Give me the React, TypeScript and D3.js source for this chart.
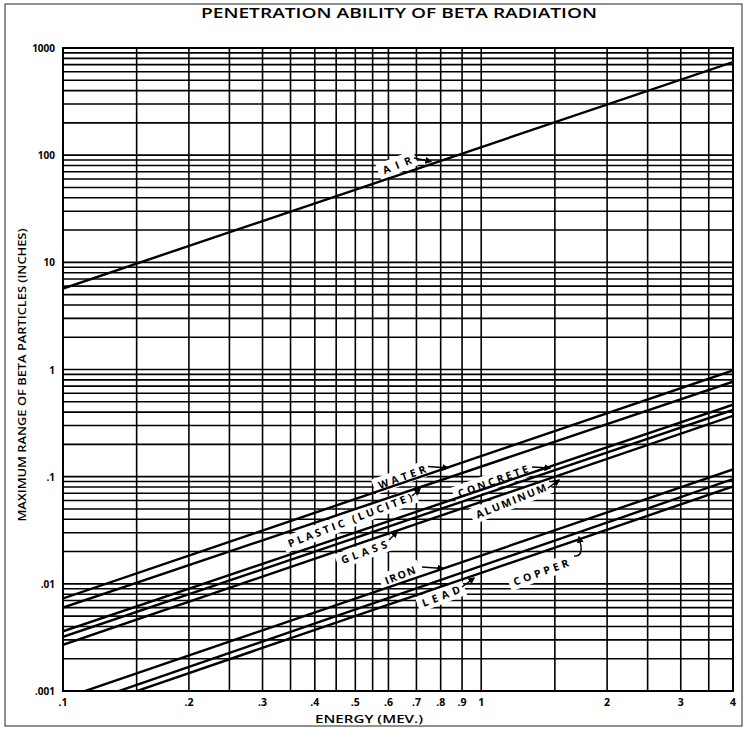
import * as d3 from 'd3'

// energy axis (MeV)
const energyTicks = [0.1, 0.2, 0.3, 0.4, 0.5, 0.6, 0.7, 0.8, 0.9, 1, 2, 3, 4]
const energyLabels = ['.1', '.2', '.3', '.4', '.5', '.6', '.7', '.8', '.9', '1', '2', '3', '4']
const energyGrid = [0.1, 0.15, 0.2, 0.25, 0.3, 0.35, 0.4, 0.45, 0.5, 0.55, 0.6, 0.7, 0.8, 0.9, 1, 1.5, 2, 2.5, 3, 3.5, 4]

// range axis (inches)
const rangeTicks = [0.001, 0.01, 0.1, 1, 10, 100, 1000]
const rangeLabels = ['.001', '.01', '.1', '1', '10', '100', '1000']

// each material is a straight line on log-log paper, read at E = 0.1 and E = 4
const endEnergies = [0.1, 4]
const materials = ['AIR', 'WATER', 'PLASTIC', 'CONCRETE', 'GLASS', 'ALUMINUM', 'IRON', 'COPPER', 'LEAD']
const airRange = [5.7, 740]
const waterRange = [0.0073, 0.98]
const plasticRange = [0.006, 0.77]
const concreteRange = [0.0036, 0.47]
const glassRange = [0.0032, 0.42]
const aluminumRange = [0.0027, 0.37]
const ironRange = [0.00085, 0.117]
const copperRange = [0.00066, 0.095]
const leadRange = [0.00058, 0.081]

const W = 746
const H = 729
const margin = { top: 48, right: 13, bottom: 38, left: 63 }
const font = "'Open Sans', 'DejaVu Sans', sans-serif"

// label layout (pixels)
const notes = [
  { text: 'AIR', cx: 397, cy: 165, rot: -22, len: 30, arrow: 'M414,158 L431,161.5' },
  { text: 'WATER', cx: 402, cy: 477, rot: -20, len: 50, arrow: 'M428,466.5 L448,468' },
  { text: 'PLASTIC (LUCITE)', cx: 350, cy: 520, rot: -21, len: 132, arrow: 'M412,496 L420,489' },
  { text: 'CONCRETE', cx: 493, cy: 481, rot: -20, len: 74, arrow: 'M532,467 L550,468' },
  { text: 'ALUMINUM', cx: 511, cy: 501, rot: -22, len: 75, arrow: 'M548,488 L559,480' },
  { text: 'GLASS', cx: 364, cy: 552, rot: -20, len: 48, arrow: 'M389,540 L397,532' },
  { text: 'IRON', cx: 400, cy: 575, rot: -22, len: 32, arrow: 'M422,567 L443,568.5' },
  { text: 'LEAD', cx: 441, cy: 596, rot: -21, len: 40, arrow: 'M462,587 L474,578' },
  { text: 'COPPER', cx: 541, cy: 572, rot: -20, len: 58, arrow: 'M574,556 Q582,557 581,546 L579,537' },
]

export default function App() {
  const x = d3.scaleLog().domain([0.1, 4]).range([margin.left, W - margin.right])
  const y = d3.scaleLog().domain([0.001, 1000]).range([H - margin.bottom, margin.top])
  const [x0, x1] = x.range()
  const [y0, y1] = y.range()

  const ranges = [airRange, waterRange, plasticRange, concreteRange, glassRange, aluminumRange, ironRange, copperRange, leadRange]
  const series = materials.map((m, i) => ({
    name: m,
    pts: endEnergies.map((e, j) => [e, ranges[i][j]] as [number, number]),
  }))

  const line = d3.line<[number, number]>()
    .x(d => x(d[0]))
    .y(d => y(d[1]))

  const hGrid = y.ticks()

  return (
    <svg width={W} height={H} style={{ position: 'absolute', left: 0, top: 0, background: '#fff' }}>
      <defs>
        <clipPath id="plot">
          <rect x={x0} y={y1} width={x1 - x0} height={y0 - y1} />
        </clipPath>
        <marker id="head" viewBox="0 0 10 10" refX="8" refY="5" markerWidth="5" markerHeight="5" orient="auto">
          <path d="M0,0 L10,5 L0,10 z" fill="#000" />
        </marker>
      </defs>

      <rect x={5} y={4} width={737} height={722} fill="none" stroke="#222" strokeWidth={1} />

      <text x={399} y={18} textAnchor="middle" fontFamily={font} fontWeight={600} fontSize={15}
        textLength={396} lengthAdjust="spacingAndGlyphs">PENETRATION ABILITY OF BETA RADIATION</text>

      <g stroke="#000" strokeWidth={1.6}>
        {hGrid.map((t, i) => (
          <line key={'h' + i} x1={x0} x2={x1} y1={y(t)} y2={y(t)} />
        ))}
        {energyGrid.map((t, i) => (
          <line key={'v' + i} x1={x(t)} x2={x(t)} y1={y0} y2={y1} />
        ))}
      </g>
      <rect x={x0} y={y1} width={x1 - x0} height={y0 - y1} fill="none" stroke="#000" strokeWidth={2} />

      {notes.map((n, i) => (
        <rect key={'bg' + i} x={n.cx - n.len / 2 - 5} y={n.cy - 8} width={n.len + 10} height={16}
          fill="#fff" transform={`rotate(${n.rot},${n.cx},${n.cy})`} />
      ))}

      <g clipPath="url(#plot)">
        {series.map(s => (
          <path key={s.name} d={line(s.pts) || ''} fill="none" stroke="#000" strokeWidth={2.4} />
        ))}
      </g>

      {notes.map((n, i) => (
        <g key={'n' + i}>
          <text x={n.cx} y={n.cy} textAnchor="middle" dominantBaseline="central" fontFamily={font}
            fontWeight="bold" fontSize={10.5} textLength={n.len} lengthAdjust="spacing"
            transform={`rotate(${n.rot},${n.cx},${n.cy})`}>{n.text}</text>
          <path d={n.arrow} fill="none" stroke="#000" strokeWidth={1.4} markerEnd="url(#head)" />
        </g>
      ))}

      {rangeTicks.map((t, i) => (
        <text key={'yl' + i} x={55} y={y(t)} textAnchor="end" dominantBaseline="central"
          fontFamily={font} fontWeight="bold" fontSize={10}>{rangeLabels[i]}</text>
      ))}
      {energyTicks.map((t, i) => (
        <text key={'xl' + i} x={x(t)} y={706} textAnchor="middle"
          fontFamily={font} fontWeight="bold" fontSize={10.5}>{energyLabels[i]}</text>
      ))}

      <text x={369} y={723} textAnchor="middle" fontFamily={font} fontWeight={600} fontSize={10.5}
        textLength={108} lengthAdjust="spacingAndGlyphs">ENERGY (MEV.)</text>
      <text transform="translate(26,375) rotate(-90)" textAnchor="middle" fontFamily={font}
        fontWeight={600} fontSize={11.5} textLength={293} lengthAdjust="spacingAndGlyphs">
        MAXIMUM RANGE OF BETA PARTICLES (INCHES)
      </text>
    </svg>
  )
}
